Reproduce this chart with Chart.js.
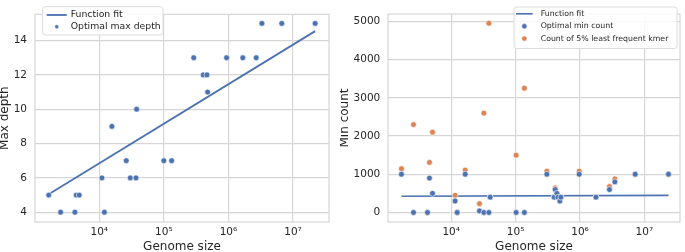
<!DOCTYPE html>
<html><head><meta charset="utf-8">
<script src="https://cdn.jsdelivr.net/npm/chart.js@4/dist/chart.umd.min.js"></script>
<style>
html,body{margin:0;padding:0;background:#fff;overflow:hidden}
#w{position:relative;width:685px;height:252px}
canvas{position:absolute;top:0}
#c1{left:0}
#c2{left:340px}
</style></head><body>
<div id="w">
<canvas id="c1" width="340" height="252"></canvas>
<canvas id="c2" width="345" height="252"></canvas>
</div>
<script>
// ---------- data ----------
const depthGenomeSizes = [1650,2520,4200,4400,4900,11000,12000,15700,26200,30200,37000,37900,100000,132000,290000,407000,465000,476000,937000,1670000,2690000,3300000,6700000,22000000];
const optimalMaxDepth  = [5,4,4,5,5,6,4,9,7,6,6,10,7,7,13,12,12,11,13,13,13,15,15,15];
const depthFitX = [1650, 22000000];
const depthFitY = [5.05, 14.55];

const countGenomeSizes = [1690,2600,4290,4600,5130,11500,12400,16500,27500,32200,38500,40300,102000,137000,306000,397000,412000,438000,454000,487000,505000,973000,1770000,2870000,3480000,7200000,23700000];
const optimalMinCount  = [1000,0,0,900,500,300,0,1000,40,0,0,400,0,0,1000,400,600,500,400,300,400,1000,400,600,800,1000,1000];
const leastFrequentKmerCount = [1145,2300,0,1310,2100,450,0,1110,230,2600,4950,400,1500,3250,1080,400,640,500,400,300,400,1080,400,680,880,1000,1000];
const countFitX = [1690, 23700000];
const countFitY = [425, 448];

const xTickValues = [1e4,1e5,1e6,1e7];
const xTickLabels = ['10\u2074','10\u2075','10\u2076','10\u2077'];
const depthTicks = [4,6,8,10,12,14];
const countTicks = [0,1000,2000,3000,4000,5000];

// ---------- style ----------
const BLUE='#4C72B0', ORANGE='#DD8452', GRID='#d6d6d6', TXT='#262626';
const FONT="'DejaVu Sans', sans-serif";
Chart.defaults.font.family = FONT;
Chart.defaults.color = TXT;

const pairs = (xs, ys) => xs.map((x,i)=>({x, y: ys[i]}));

const framePlugin = {
  id:'frame',
  beforeDatasetsDraw(chart){
    const a = chart.chartArea, ctx = chart.ctx;
    ctx.save(); ctx.strokeStyle = GRID; ctx.lineWidth = 1.2;
    ctx.strokeRect(a.left, a.top, a.right-a.left, a.bottom-a.top);
    ctx.restore();
  }
};

const legendPlugin = {
  id:'boxLegend',
  afterDraw(chart, args, o){
    if(!o || !o.box) return;
    const ctx = chart.ctx, b = o.box;
    ctx.save();
    ctx.beginPath();
    const r = 2.5;
    ctx.moveTo(b.x+r,b.y); ctx.lineTo(b.x+b.w-r,b.y); ctx.quadraticCurveTo(b.x+b.w,b.y,b.x+b.w,b.y+r);
    ctx.lineTo(b.x+b.w,b.y+b.h-r); ctx.quadraticCurveTo(b.x+b.w,b.y+b.h,b.x+b.w-r,b.y+b.h);
    ctx.lineTo(b.x+r,b.y+b.h); ctx.quadraticCurveTo(b.x,b.y+b.h,b.x,b.y+b.h-r);
    ctx.lineTo(b.x,b.y+r); ctx.quadraticCurveTo(b.x,b.y,b.x+r,b.y); ctx.closePath();
    ctx.fillStyle='rgba(255,255,255,0.85)'; ctx.fill();
    ctx.strokeStyle='#dcdcdc'; ctx.lineWidth=1; ctx.stroke();
    ctx.font = o.fontSize + 'px ' + FONT; ctx.textBaseline='middle';
    o.items.forEach((it,i)=>{
      const ds = chart.data.datasets[it.dataset];
      const y = o.firstY + i*o.rowGap;
      if(it.kind==='line'){
        ctx.strokeStyle = ds.borderColor; ctx.lineWidth = ds.borderWidth;
        ctx.beginPath(); ctx.moveTo(o.markX0,y); ctx.lineTo(o.markX1,y); ctx.stroke();
      } else {
        ctx.beginPath(); ctx.arc((o.markX0+o.markX1)/2, y, o.dotR, 0, Math.PI*2);
        ctx.fillStyle = ds.backgroundColor; ctx.fill();
        ctx.strokeStyle='#fff'; ctx.lineWidth=0.5; ctx.stroke();
      }
      ctx.fillStyle = TXT; ctx.fillText(ds.label, o.textX, y);
    });
    ctx.restore();
  }
};

function xScale(minExp, maxExp){
  return {
    type:'logarithmic', min: Math.pow(10,minExp), max: Math.pow(10,maxExp),
    afterBuildTicks: s => { s.ticks = xTickValues.map(v=>({value:v, major:true})); },
    afterFit: s => { s.height = 30; },
    grid:{color:GRID, lineWidth:1.2, drawTicks:false},
    border:{display:false},
    ticks:{padding:4, color:TXT, font:{size:10.5}, maxRotation:0, autoSkip:false,
      callback:(v,i)=> xTickLabels[i]},
    title:{display:true, text:'Genome size', color:TXT, font:{size:12, lineHeight:1}, padding:{top:0,bottom:-1}}
  };
}
function yScale(min, max, ticks, width, title, pad){
  return {
    type:'linear', min, max,
    afterBuildTicks: s => { s.ticks = ticks.map(v=>({value:v})); },
    afterFit: s => { s.width = width; },
    grid:{color:GRID, lineWidth:1.2, drawTicks:false},
    border:{display:false},
    ticks:{padding:pad, color:TXT, font:{size:10.5}, autoSkip:false, callback:v=>String(v)},
    title:{display:true, text:title, color:TXT, font:{size:12, lineHeight:1}, padding:{top:-1.5,bottom:0}}
  };
}

const common = {
  responsive:false, animation:false, events:[],
  plugins:{legend:{display:false}, tooltip:{enabled:false}}
};

new Chart(document.getElementById('c1'), {
  type:'scatter',
  data:{datasets:[
    {label:'Function fit', data:pairs(depthFitX, depthFitY), showLine:true, borderColor:BLUE, backgroundColor:BLUE, borderWidth:1.8, pointRadius:0, order:1},
    {label:'Optimal max depth', data:pairs(depthGenomeSizes, optimalMaxDepth), backgroundColor:BLUE, borderColor:'#ffffff', borderWidth:0.6, pointRadius:2.9, order:0}
  ]},
  options:Object.assign({}, common, {
    layout:{padding:{left:0, top:3, right:11, bottom:0}},
    scales:{ x:xScale(3.005, 7.557), y:yScale(3.43, 15.53, depthTicks, 35, 'Max depth', 8) },
    plugins:{legend:{display:false}, tooltip:{enabled:false},
      boxLegend:{box:{x:42.7,y:6.7,w:120.3,h:28.3}, fontSize:9.3, firstY:15, rowGap:11.7, markX0:46.7, markX1:66.7, textX:70.7, dotR:2,
        items:[{dataset:0,kind:'line'},{dataset:1,kind:'dot'}]}}
  }),
  plugins:[framePlugin, legendPlugin]
});

new Chart(document.getElementById('c2'), {
  type:'scatter',
  data:{datasets:[
    {label:'Function fit', data:pairs(countFitX, countFitY), showLine:true, borderColor:BLUE, backgroundColor:BLUE, borderWidth:1.6, pointRadius:0, order:2},
    {label:'Optimal min count', data:pairs(countGenomeSizes, optimalMinCount), backgroundColor:BLUE, borderColor:'#ffffff', borderWidth:0.6, pointRadius:2.9, order:0},
    {label:'Count of 5% least frequent kmer', data:pairs(countGenomeSizes, leastFrequentKmerCount), backgroundColor:ORANGE, borderColor:'#ffffff', borderWidth:0.6, pointRadius:2.9, order:1}
  ]},
  options:Object.assign({}, common, {
    layout:{padding:{left:0, top:3, right:5, bottom:0}},
    scales:{ x:xScale(3.019, 7.553), y:yScale(-249, 5192, countTicks, 48, 'Min count', 7.7) },
    plugins:{legend:{display:false}, tooltip:{enabled:false},
      boxLegend:{box:{x:174,y:7,w:163,h:41.5}, fontSize:7.8, firstY:13.8, rowGap:12.4, markX0:176, markX1:192.7, textX:200.7, dotR:2.6,
        items:[{dataset:0,kind:'line'},{dataset:1,kind:'dot'},{dataset:2,kind:'dot'}]}}
  }),
  plugins:[framePlugin, legendPlugin]
});
</script>
</body></html>
